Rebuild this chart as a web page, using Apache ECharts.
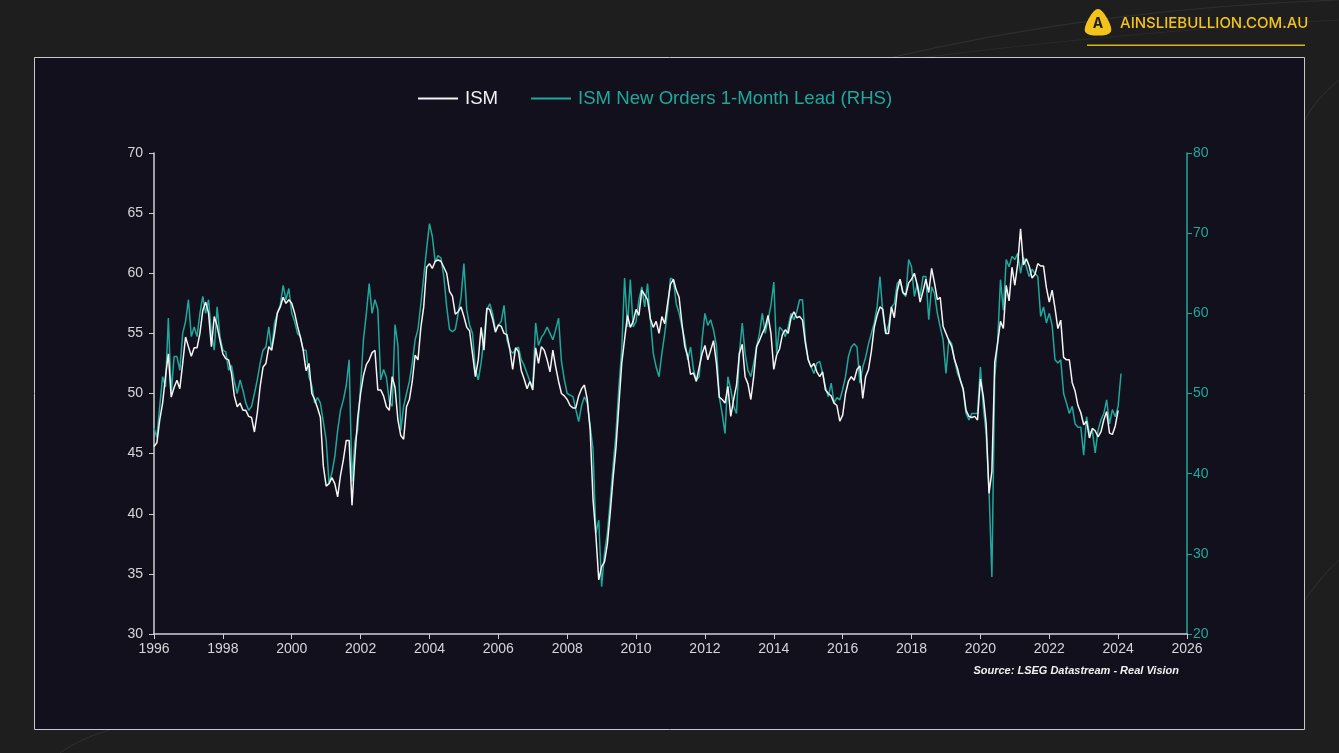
<!DOCTYPE html>
<html>
<head>
<meta charset="utf-8">
<style>
html,body{margin:0;padding:0;background:#1e1e1f;}
#chart{width:1339px;height:753px;}
</style>
<script src="https://cdn.jsdelivr.net/npm/echarts@6/dist/echarts.min.js"></script>
</head>
<body>
<div id="chart"></div>
<script>
// Monthly values, starting January 1996
const startYear = 1996;
const seriesNames = ['ISM', 'ISM New Orders 1-Month Lead (RHS)'];
const ismValues = [
  45.6,45.9,47.8,49.2,51.4,53.3,49.7,50.5,51.1,50.4,52.5,54.7,
  53.9,53.1,53.8,53.8,55.0,56.9,57.6,56.7,53.9,56.4,55.6,54.4,
  53.3,52.9,52.8,51.7,49.8,48.9,49.2,48.6,48.6,48.1,48.0,46.8,
  48.4,50.6,52.2,52.5,53.9,53.6,55.0,56.7,57.2,58.0,57.5,57.8,
  57.5,56.7,55.6,54.7,53.6,51.9,52.5,50.0,49.5,48.8,48.0,44.0,
  42.3,42.5,43.0,42.5,41.4,43.2,44.5,46.1,46.1,40.7,44.7,48.0,
  50.0,51.5,52.4,52.8,53.4,53.6,50.3,50.3,49.8,48.9,48.6,51.4,
  50.5,47.8,46.5,46.2,48.9,49.5,51.0,53.2,52.8,55.5,57.2,60.5,
  60.8,60.4,61.0,61.1,61.0,60.5,60.0,58.5,58.1,56.6,56.8,57.2,
  56.4,55.5,55.2,53.3,51.4,52.8,55.5,53.6,57.1,57.0,56.2,55.1,
  55.7,55.6,55.0,54.9,53.7,52.0,53.8,53.5,51.9,51.2,50.4,51.0,
  50.3,53.8,52.5,53.9,53.6,52.8,51.8,53.6,52.2,51.0,50.0,49.8,
  49.5,49.0,48.8,48.8,49.8,50.4,50.7,49.5,47.0,41.2,38.2,34.5,
  35.6,36.0,37.5,40.1,43.0,45.5,49.0,52.5,54.5,56.5,55.5,56.0,
  57.0,56.5,58.6,58.2,57.8,56.2,55.5,56.0,55.0,56.4,55.8,57.5,
  59.1,59.5,58.6,58.0,55.8,53.9,53.1,51.6,51.7,51.0,52.2,53.3,
  54.0,52.8,53.6,54.4,52.5,49.7,49.5,49.2,50.6,48.1,49.5,50.7,
  53.3,54.1,51.4,50.8,49.5,51.4,53.9,54.4,55.0,55.5,56.5,55.0,
  52.0,53.2,53.7,54.9,55.3,55.0,56.3,56.8,56.3,56.4,56.1,54.2,
  52.8,52.2,52.5,51.8,51.4,51.8,50.3,50.0,49.8,49.2,49.0,47.7,
  48.2,50.0,51.0,51.4,51.1,52.0,52.3,49.6,51.4,52.0,53.5,55.5,
  56.5,57.2,57.0,55.0,55.0,57.2,56.3,58.5,59.5,58.4,58.2,59.2,
  59.5,60.0,59.0,57.6,58.5,59.5,58.4,60.4,59.2,57.8,58.0,55.6,
  55.0,54.4,53.9,52.8,52.1,51.1,50.4,48.6,48.1,48.0,48.1,47.8,
  51.2,49.8,47.5,41.7,43.5,52.6,54.2,56.0,55.4,59.0,57.7,60.5,
  59.0,60.8,63.7,60.7,61.2,60.6,59.6,59.9,60.8,60.6,60.6,58.8,
  57.6,58.6,57.1,55.4,56.1,53.0,52.8,52.8,50.9,50.2,49.0,48.4,
  47.4,47.7,46.3,47.1,46.9,46.4,46.8,47.8,48.5,46.7,46.6,47.3,
  48.6
];
const newOrdersValues = [
  45.7,44.5,48.4,52.1,50.8,59.4,50.0,54.6,54.6,52.9,57.5,59.0,
  61.7,57.1,58.3,57.1,60.0,62.1,60.0,61.7,57.5,55.4,60.8,57.1,
  55.4,55.2,52.9,53.5,51.5,50.0,51.7,50.4,48.8,47.9,48.4,50.0,
  51.7,53.8,55.4,55.8,58.3,55.4,58.8,60.0,61.0,63.5,61.7,63.1,
  60.0,59.0,57.5,57.1,55.4,55.4,52.1,51.0,48.8,49.5,48.8,46.5,
  44.2,38.8,40.1,42.1,45.4,47.9,49.2,51.0,54.2,39.0,44.0,45.5,
  51.0,56.7,60.0,63.7,60.0,61.7,60.5,51.7,53.0,52.0,49.0,48.4,
  58.6,56.0,45.4,48.4,50.0,51.5,53.8,56.7,58.0,61.2,64.6,68.0,
  71.2,69.6,66.4,67.2,66.9,64.6,60.8,58.0,57.7,58.0,60.0,62.0,
  66.2,60.4,58.5,57.5,53.0,51.7,53.8,57.0,60.4,61.2,60.0,57.9,
  58.5,59.0,61.0,56.7,55.5,55.0,55.5,55.8,54.2,53.5,52.5,51.5,
  50.8,58.8,56.0,57.0,57.5,58.3,57.5,56.7,58.0,59.4,54.0,51.7,
  50.0,49.8,49.6,48.0,46.5,48.5,49.6,48.8,46.0,43.0,32.6,34.2,
  25.9,30.1,32.6,36.7,41.0,45.0,50.8,55.4,64.4,58.3,64.2,58.3,
  59.0,61.7,63.3,60.8,63.7,59.2,55.0,53.3,52.1,55.0,57.5,60.4,
  64.4,64.2,61.2,60.0,58.3,56.7,54.2,55.8,53.0,51.7,52.1,56.7,
  60.0,58.5,59.2,57.9,56.0,49.6,47.5,45.0,52.1,50.5,48.4,47.5,
  55.0,58.8,55.0,52.9,52.1,53.8,55.8,57.5,60.0,57.5,59.2,61.0,
  63.9,55.0,58.3,57.9,57.1,58.3,60.0,59.2,60.2,61.7,61.7,56.7,
  54.2,53.3,52.5,53.8,54.0,52.5,50.8,49.6,51.3,48.8,49.5,49.2,
  50.5,52.1,54.6,55.8,56.2,55.8,51.3,53.3,54.5,56.2,57.5,58.8,
  60.8,64.6,60.0,57.5,58.5,60.8,61.2,63.7,64.2,62.5,62.1,66.7,
  65.8,62.1,63.7,62.1,64.6,64.6,59.2,63.3,62.5,60.0,58.3,56.7,
  52.5,56.7,56.2,54.2,52.5,51.7,50.4,47.5,46.7,47.5,47.5,47.5,
  53.3,48.4,45.0,38.0,27.1,52.0,56.4,64.2,60.4,66.7,65.8,67.1,
  66.7,67.5,65.0,67.0,65.8,64.6,65.5,65.0,64.6,59.6,60.8,58.8,
  60.0,58.5,54.2,53.8,54.2,50.0,48.8,47.5,48.4,46.2,45.8,45.8,
  42.3,47.1,45.0,45.4,42.6,45.4,46.7,47.5,49.2,46.2,48.0,47.1,
  48.4,52.5
];

const TEAL = '#1fa89b';
const WHITE = '#f4f4f4';
const AXIS_GREY = '#cfcfd4';
const YELLOW = '#f3c31c';

function toPoints(values) {
  return values.map((v, i) => [startYear + i / 12, v]);
}

const chart = echarts.init(document.getElementById('chart'), null, {renderer: 'canvas'});

const option = {
  backgroundColor: '#1e1e1f',
  animation: false,
  textStyle: {fontFamily: 'Liberation Sans, Arial, sans-serif'},
  graphic: [
    // decorative background curves
    {type: 'bezierCurve', z: -20, silent: true,
     shape: {x1: 880, y1: 60, x2: 1339, y2: 0, cpx1: 1050, cpy1: 20, cpx2: 1200, cpy2: 5},
     style: {stroke: 'rgba(255,255,255,0.07)', lineWidth: 1.2, fill: null}},
    {type: 'bezierCurve', z: -20, silent: true,
     shape: {x1: 920, y1: 58, x2: 1339, y2: 20, cpx1: 1100, cpy1: 35, cpx2: 1250, cpy2: 25},
     style: {stroke: 'rgba(255,255,255,0.05)', lineWidth: 1, fill: null}},
    {type: 'bezierCurve', z: -20, silent: true,
     shape: {x1: 1305, y1: 120, x2: 1339, y2: 80, cpx1: 1315, cpy1: 100, cpx2: 1330, cpy2: 88},
     style: {stroke: 'rgba(255,255,255,0.08)', lineWidth: 1, fill: null}},
    {type: 'bezierCurve', z: -20, silent: true,
     shape: {x1: 1305, y1: 600, x2: 1339, y2: 560, cpx1: 1315, cpy1: 585, cpx2: 1328, cpy2: 570},
     style: {stroke: 'rgba(255,255,255,0.08)', lineWidth: 1, fill: null}},
    {type: 'bezierCurve', z: -20, silent: true,
     shape: {x1: 60, y1: 753, x2: 110, y2: 730, cpx1: 75, cpy1: 742, cpx2: 95, cpy2: 734},
     style: {stroke: 'rgba(255,255,255,0.08)', lineWidth: 1, fill: null}},
    // chart panel
    {type: 'rect', z: -10, silent: true,
     shape: {x: 34.5, y: 57.5, width: 1270, height: 672},
     style: {fill: '#12101c', stroke: '#c9c9cc', lineWidth: 1}},
    // logo
    {type: 'polygon', z: 10, silent: true,
     shape: {points: [[1098, 11], [1109, 31], [1087, 31]], smooth: 0.35},
     style: {fill: YELLOW, stroke: YELLOW, lineWidth: 4, lineJoin: 'round'}},
    {type: 'text', z: 11, silent: true,
     style: {x: 1098, y: 24, text: 'A', fill: '#1e1e1f', font: 'bold 14px Inter, sans-serif',
             textAlign: 'center', textVerticalAlign: 'middle'}},
    {type: 'text', z: 10, silent: true,
     style: {x: 1120, y: 23, text: 'AINSLIEBULLION.COM.AU', fill: YELLOW,
             font: '500 15px Inter, "Open Sans", sans-serif', textVerticalAlign: 'middle'}},
    {type: 'rect', z: 10, silent: true,
     shape: {x: 1087, y: 44.5, width: 218, height: 1.5},
     style: {fill: '#d9b21c'}},
    // source note
    {type: 'text', z: 10, silent: true,
     style: {x: 1179, y: 671, text: 'Source: LSEG Datastream - Real Vision', fill: '#f0f0f0',
             font: 'italic bold 11px "Liberation Sans", Arial, sans-serif',
             textAlign: 'right', textVerticalAlign: 'middle'}}
  ],
  legend: {
    left: 413, top: 84,
    itemWidth: 40, itemHeight: 2, itemGap: 33,
    icon: 'rect',
    textStyle: {fontSize: 18.6, fontFamily: 'Liberation Sans, Arial, sans-serif', padding: [0, 0, 0, 2]},
    data: [
      {name: seriesNames[0], textStyle: {color: '#f2f2f2'}},
      {name: seriesNames[1], textStyle: {color: TEAL}}
    ]
  },
  grid: {left: 154, right: 152, top: 153, bottom: 119, containLabel: false},
  xAxis: {
    type: 'value', min: 1996, max: 2026, interval: 2,
    axisLine: {lineStyle: {color: AXIS_GREY, width: 1.5}},
    axisTick: {show: true, length: 5, lineStyle: {color: AXIS_GREY}},
    axisLabel: {color: '#d6d6da', fontSize: 14, margin: 8, formatter: v => String(v)},
    splitLine: {show: false}
  },
  yAxis: [
    {
      type: 'value', min: 30, max: 70, interval: 5, position: 'left',
      axisLine: {show: true, lineStyle: {color: AXIS_GREY, width: 1.5}},
      axisTick: {show: true, length: 5, lineStyle: {color: AXIS_GREY}},
      axisLabel: {color: '#d6d6da', fontSize: 14, margin: 11},
      splitLine: {show: false}
    },
    {
      type: 'value', min: 20, max: 80, interval: 10, position: 'right',
      axisLine: {show: true, lineStyle: {color: TEAL, width: 1.5}},
      axisTick: {show: true, length: 5, lineStyle: {color: TEAL}},
      axisLabel: {color: TEAL, fontSize: 14, margin: 6},
      splitLine: {show: false}
    }
  ],
  series: [
    {
      name: seriesNames[0], type: 'line', yAxisIndex: 0, z: 4,
      data: toPoints(ismValues), showSymbol: false, symbol: 'none',
      lineStyle: {color: WHITE, width: 1.5}, itemStyle: {color: WHITE}
    },
    {
      name: seriesNames[1], type: 'line', yAxisIndex: 1, z: 3,
      data: toPoints(newOrdersValues), showSymbol: false, symbol: 'none',
      lineStyle: {color: TEAL, width: 1.5}, itemStyle: {color: TEAL}
    }
  ]
};
chart.setOption(option);
</script>
</body>
</html>
